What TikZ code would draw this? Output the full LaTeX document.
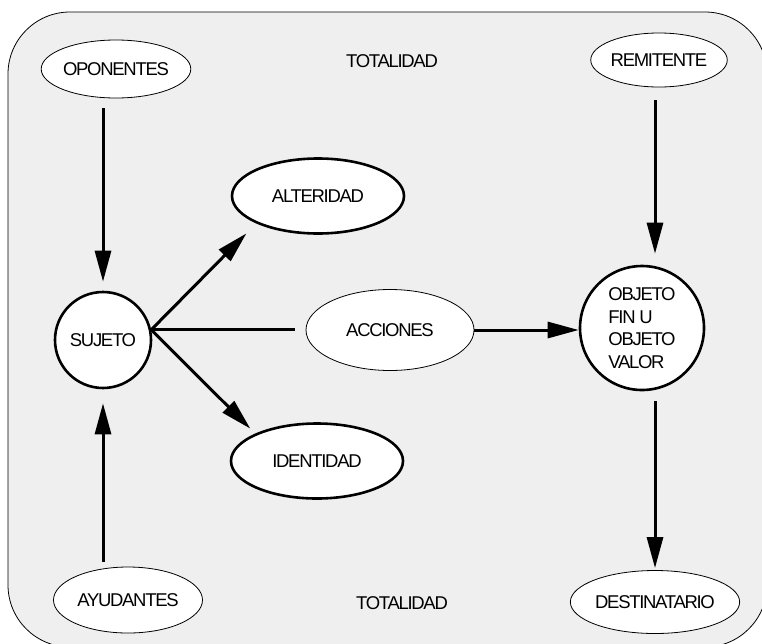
\documentclass[tikz,border=0pt]{standalone}
\usepackage{fontspec}
\setmainfont{Liberation Sans}[LetterSpace=-7]
\usetikzlibrary{shapes.geometric,arrows.meta}
\definecolor{bg}{HTML}{EFEFEF}
\begin{document}
\begin{tikzpicture}[x=1pt,y=-1pt,
  every node/.style={font=\fontsize{18.5}{22.5}\selectfont},
  thinell/.style={ellipse,draw,line width=0.8pt,fill=white,inner sep=0pt},
  thickell/.style={ellipse,draw,line width=2.6pt,fill=white,inner sep=0pt},
  circ/.style={circle,draw,line width=2.6pt,fill=white,inner sep=0pt},
  arr/.style={line width=3pt,-{Triangle[length=31pt,width=16pt]}},
  ln/.style={line width=3pt}]
\useasboundingbox (0,0) rectangle (762,643);
\draw[fill=bg,line width=0.8pt,rounded corners=62pt] (8,12) rectangle (767,647);

\node[thinell, minimum width=122pt, minimum height=58pt] (op) at (116,69) {OPONENTES};
\node (tot1) at (392,61) {TOTALIDAD};
\node[thinell, minimum width=120pt, minimum height=54pt] (rem) at (659,60) {REMITENTE};
\node[thickell, minimum width=172pt, minimum height=75pt] (alt) at (318,196) {ALTERIDAD};
\node[circ, minimum size=96pt] (suj) at (103,340) {SUJETO};
\node[thinell, minimum width=168pt, minimum height=81pt] (acc) at (390,330) {ACCIONES};
\node[thickell, minimum width=172pt, minimum height=75pt] (ide) at (317,461) {IDENTIDAD};
\node[thinell, minimum width=149pt, minimum height=66pt] (ayu) at (128,600) {AYUDANTES};
\node (tot2) at (402,603) {TOTALIDAD};
\node[circ, minimum size=124pt, align=left] (obj) at (642,328) {OBJETO\\FIN U\\OBJETO\\VALOR};
\node[thinell, minimum width=145pt, minimum height=63pt] (des) at (655,602) {DESTINATARIO};

\coordinate (hub) at (suj.12);

\draw[arr, shorten <=10pt, shorten >=9pt] (suj |- op.south) -- (suj.north);
\draw[arr, shorten <=5pt, shorten >=14pt] (suj |- ayu.north) -- (suj.south);
\draw[arr, shorten >=14pt] (hub) -- (alt.south west);
\draw[arr, shorten >=7pt] (hub) -- (ide.north west);
\draw[ln, shorten >=11pt] (hub) -- (acc.west |- hub);
\draw[arr] (acc.east) -- (obj.west |- acc.east);
\draw[arr, shorten <=13pt, shorten >=11pt] (des.north |- rem.south) -- (des.north |- obj.north);
\draw[arr, shorten <=10pt, shorten >=2pt] (des.north |- obj.south) -- (des.north);
\end{tikzpicture}
\end{document}
